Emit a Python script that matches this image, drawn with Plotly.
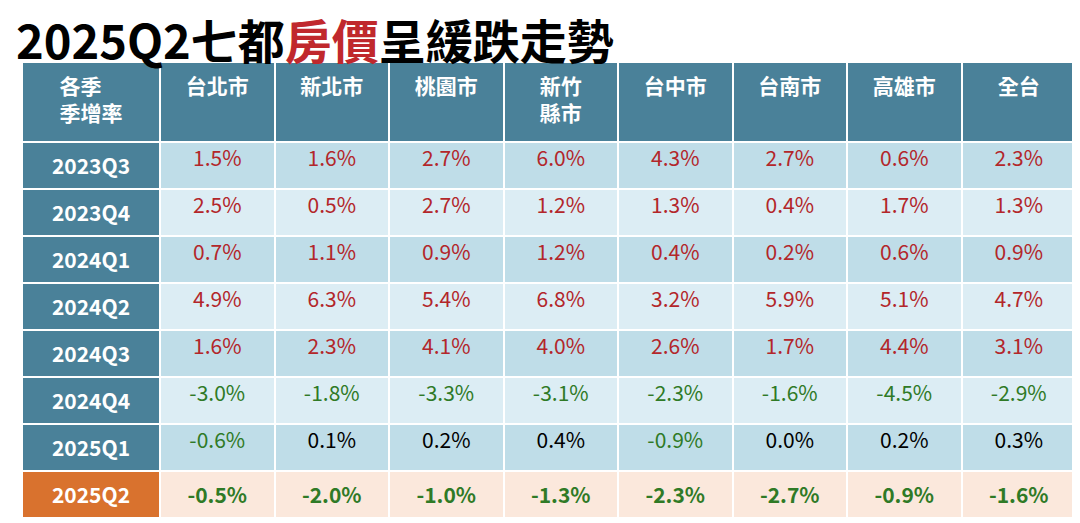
import plotly.graph_objects as go

## data
cities = ["台北市", "新北市", "桃園市", "新竹<br>縣市", "台中市", "台南市", "高雄市", "全台"]
quarters = ["2023Q3", "2023Q4", "2024Q1", "2024Q2", "2024Q3", "2024Q4", "2025Q1", "2025Q2"]
rates = [
    [1.5, 2.5, 0.7, 4.9, 1.6, -3.0, -0.6, -0.5],   # 台北市
    [1.6, 0.5, 1.1, 6.3, 2.3, -1.8, 0.1, -2.0],    # 新北市
    [2.7, 2.7, 0.9, 5.4, 4.1, -3.3, 0.2, -1.0],    # 桃園市
    [6.0, 1.2, 1.2, 6.8, 4.0, -3.1, 0.4, -1.3],    # 新竹縣市
    [4.3, 1.3, 0.4, 3.2, 2.6, -2.3, -0.9, -2.3],   # 台中市
    [2.7, 0.4, 0.2, 5.9, 1.7, -1.6, 0.0, -2.7],    # 台南市
    [0.6, 1.7, 0.6, 5.1, 4.4, -4.5, 0.2, -0.9],    # 高雄市
    [2.3, 1.3, 0.9, 4.7, 3.1, -2.9, 0.3, -1.6],    # 全台
]

HEAD = "#4a8199"
ORANGE = "#d9722e"
RED = "#b3262a"
GREEN = "#2f7a26"
ROW_A = "#bfdde8"
ROW_B = "#dcedf4"
PEACH = "#fbe8dc"

n = len(quarters)
last = n - 1


def fmt(v, i):
    s = "{:.1f}%".format(v)
    return "<b>{}</b>".format(s) if i == last else s


def color(v, i):
    if i == last or v < 0:
        return GREEN
    if i == n - 2:  # 2025Q1 positives shown in black
        return "black"
    return RED


row_fill = [PEACH if i == last else (ROW_A if i % 2 == 0 else ROW_B) for i in range(n)]

cell_values = [["<b>%s</b>" % q for q in quarters]] + [[fmt(v, i) for i, v in enumerate(col)] for col in rates]
cell_colors = [["white"] * n] + [[color(v, i) for i, v in enumerate(col)] for col in rates]
cell_fills = [[HEAD] * last + [ORANGE]] + [row_fill] * len(rates)

fig = go.Figure(go.Table(
    columnwidth=[138] + [114.5] * len(cities),
    header=dict(
        values=["<b>各季<br>季增率</b>"] + ["<b>%s</b>" % c for c in cities],
        fill_color=HEAD,
        line=dict(color="white", width=2),
        font=dict(color="white", size=21, family="Noto Sans CJK TC"),
        align="center",
        height=80,
    ),
    cells=dict(
        values=cell_values,
        fill_color=cell_fills,
        line=dict(color="white", width=2),
        font=dict(color=cell_colors, size=21, family="Noto Sans CJK TC"),
        align="center",
        height=47,
    ),
    domain=dict(x=[14 / 1080, 1068 / 1080], y=[0, 1 - 54 / 523]),
))

fig.add_annotation(
    text="<b>2025Q2七都<span style='color:#c0282d'>房價</span>呈緩跌走勢</b>",
    x=6 / 1080, y=1 - 30 / 523, xref="paper", yref="paper",
    xanchor="left", yanchor="middle", showarrow=False,
    font=dict(size=47, color="black", family="Noto Sans CJK TC"),
)

fig.update_layout(
    width=1080, height=523,
    margin=dict(l=0, r=0, t=0, b=0),
    paper_bgcolor="white",
)

fig.write_html("out.html")
